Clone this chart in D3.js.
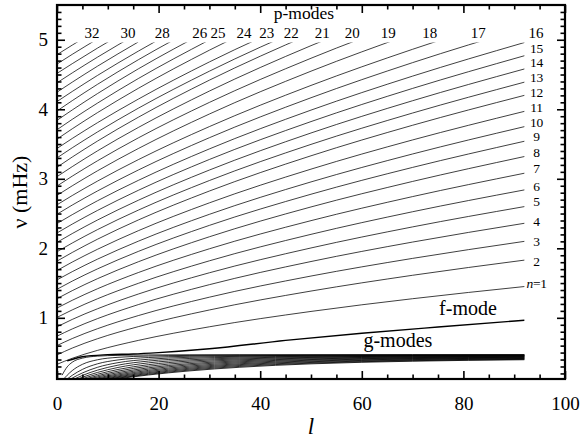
<!DOCTYPE html>
<html>
<head>
<meta charset="utf-8">
<script src="https://cdn.jsdelivr.net/npm/d3@7"></script>
<style>
  html, body { margin: 0; padding: 0; background: #fff; }
  svg { display: block; }
  svg text { font-family: "Liberation Serif", "Times New Roman", Times, serif; fill: #000; }
</style>
</head>
<body>
<svg id="chart" width="584" height="441"></svg>
<script>
// ---------------- data ----------------
// degree grid for p-mode ridges
const lGrid = [0, 3, 8, 16, 30, 50, 70, 92];
// p-mode frequencies (mHz), n = 1 .. 34, values at lGrid
const pModes = [
  [0.331, 0.418, 0.532, 0.675, 0.871, 1.092, 1.275, 1.45],
  [0.466, 0.565, 0.700, 0.873, 1.113, 1.385, 1.612, 1.83],
  [0.601, 0.702, 0.844, 1.032, 1.297, 1.601, 1.855, 2.10],
  [0.736, 0.840, 0.989, 1.190, 1.477, 1.810, 2.090, 2.36],
  [0.871, 0.977, 1.131, 1.342, 1.648, 2.005, 2.308, 2.60],
  [1.006, 1.114, 1.275, 1.496, 1.820, 2.201, 2.526, 2.84],
  [1.141, 1.252, 1.419, 1.651, 1.993, 2.398, 2.744, 3.08],
  [1.276, 1.391, 1.564, 1.806, 2.166, 2.595, 2.962, 3.32],
  [1.411, 1.528, 1.705, 1.955, 2.330, 2.778, 3.164, 3.54],
  [1.546, 1.664, 1.845, 2.102, 2.489, 2.955, 3.357, 3.75],
  [1.681, 1.802, 1.987, 2.253, 2.654, 3.139, 3.559, 3.97],
  [1.816, 1.940, 2.132, 2.407, 2.824, 3.331, 3.770, 4.20],
  [1.951, 2.076, 2.270, 2.549, 2.975, 3.495, 3.946, 4.39],
  [2.086, 2.212, 2.408, 2.691, 3.126, 3.659, 4.123, 4.58],
  [2.221, 2.348, 2.546, 2.834, 3.278, 3.823, 4.300, 4.77],
  [2.356, 2.484, 2.685, 2.977, 3.430, 3.988, 4.477, 4.96],
  [2.491, 2.622, 2.826, 3.126, 3.591, 4.166, 4.671, 5.169],
  [2.626, 2.759, 2.968, 3.275, 3.751, 4.343, 4.863, 5.377],
  [2.761, 2.899, 3.116, 3.435, 3.932, 4.548, 5.090],
  [2.896, 3.038, 3.260, 3.588, 4.099, 4.734, 5.294],
  [3.031, 3.175, 3.403, 3.738, 4.262, 4.915, 5.490],
  [3.166, 3.313, 3.544, 3.885, 4.419, 5.086],
  [3.301, 3.446, 3.675, 4.015, 4.548, 5.217],
  [3.436, 3.580, 3.808, 4.146, 4.681, 5.352],
  [3.571, 3.719, 3.953, 4.301, 4.850, 5.541],
  [3.706, 3.855, 4.090, 4.442, 4.998],
  [3.841, 3.990, 4.227, 4.581, 5.141],
  [3.976, 4.124, 4.360, 4.712, 5.273],
  [4.111, 4.256, 4.488, 4.836, 5.391],
  [4.246, 4.390, 4.621, 4.968],
  [4.381, 4.523, 4.751, 5.095],
  [4.516, 4.656, 4.881, 5.222],
  [4.651, 4.790, 5.013],
  [4.786, 4.923, 5.144]
];
const nuCut = 4.96;      // ridges are cut at this frequency (mHz)

// f-mode
const fL  = [2, 5, 10, 15, 20, 30, 45, 60, 75, 92];
const fNu = [0.38, 0.44, 0.47, 0.48, 0.50, 0.555, 0.675, 0.778, 0.868, 0.965];

// g-modes
const gL = [1, 2, 3, 5, 8, 12, 18, 26, 36, 50, 70, 92];
const gModes = [
  [0.175, 0.294, 0.361, 0.420, 0.449, 0.460, 0.466, 0.468, 0.469, 0.469, 0.470, 0.470],
  [0.092, 0.174, 0.241, 0.331, 0.397, 0.432, 0.450, 0.459, 0.463, 0.465, 0.466, 0.467],
  [0.062, 0.120, 0.173, 0.258, 0.339, 0.394, 0.429, 0.447, 0.455, 0.460, 0.462, 0.464],
  [0.046, 0.091, 0.133, 0.207, 0.289, 0.355, 0.404, 0.432, 0.446, 0.454, 0.458, 0.460],
  [0.037, 0.073, 0.107, 0.171, 0.248, 0.319, 0.378, 0.415, 0.435, 0.446, 0.453, 0.456],
  [0.030, 0.061, 0.090, 0.145, 0.215, 0.286, 0.352, 0.396, 0.422, 0.438, 0.447, 0.452],
  [0.026, 0.052, 0.077, 0.125, 0.189, 0.257, 0.326, 0.378, 0.409, 0.430, 0.441, 0.447],
  [0.023, 0.045, 0.067, 0.110, 0.168, 0.233, 0.303, 0.359, 0.396, 0.420, 0.435, 0.442],
  [0.020, 0.040, 0.060, 0.098, 0.151, 0.212, 0.281, 0.340, 0.382, 0.410, 0.428, 0.437],
  [0.018, 0.036, 0.053, 0.088, 0.136, 0.194, 0.262, 0.323, 0.368, 0.400, 0.421, 0.432],
  [0.016, 0.032, 0.048, 0.080, 0.124, 0.178, 0.244, 0.306, 0.354, 0.390, 0.414, 0.426],
  [0.015, 0.029, 0.044, 0.073, 0.114, 0.164, 0.228, 0.290, 0.340, 0.379, 0.407, 0.421],
  [0.014, 0.027, 0.040, 0.067, 0.105, 0.152, 0.213, 0.275, 0.327, 0.369, 0.399, 0.415],
  [0.013, 0.025, 0.037, 0.062, 0.098, 0.142, 0.200, 0.261, 0.314, 0.358, 0.391, 0.409],
  [0.012, 0.023, 0.035, 0.058, 0.091, 0.133, 0.188, 0.248, 0.301, 0.348, 0.383, 0.403],
  [0.011, 0.022, 0.032, 0.054, 0.085, 0.124, 0.178, 0.236, 0.289, 0.338, 0.376, 0.397]
];

// labels
const topLabels  = [32, 30, 28, 26, 25, 24, 23, 22, 21, 20, 19, 18, 17, 16];
const topLabelL  = [6.9, 14.0, 20.7, 28.1, 31.7, 36.8, 41.3, 46.1, 52.2, 58.1, 65.2, 73.4, 82.9, 94.3];
const rightLabels   = [15, 14, 13, 12, 11, 10, 9, 8, 7, 6, 5, 4, 3, 2, 1];
const rightLabelNu  = [4.875, 4.675, 4.454, 4.238, 4.028, 3.812, 3.615, 3.375, 3.151, 2.886, 2.670, 2.383, 2.095, 1.807, 1.497];
const xTicks = [0, 20, 40, 60, 80, 100];
const yTicks = [1, 2, 3, 4, 5];
const xDomain = [0, 100];
const yDomain = [0.12, 5.5];

// ---------------- drawing ----------------
const FONT = '"Liberation Serif", "Times New Roman", Times, serif';
const svg = d3.select("#chart");
const M = {left: 57, right: 565, top: 5, bottom: 379};
const x = d3.scaleLinear().domain(xDomain).range([M.left, M.right]);
const y = d3.scaleLinear().domain(yDomain).range([M.bottom, M.top]);

svg.append("defs").append("clipPath").attr("id", "clip")
  .append("rect")
  .attr("x", x(0)).attr("width", x(100) - x(0))
  .attr("y", y(nuCut)).attr("height", y(yDomain[0]) - y(nuCut));

const plot = svg.append("g").attr("clip-path", "url(#clip)");
const line = d3.line().x(d => x(d[0])).y(d => y(d[1])).curve(d3.curveMonotoneX);

// g-modes
plot.append("g").selectAll("path").data(gModes).join("path")
  .attr("d", vals => line(vals.map((v, i) => [gL[i], v])))
  .attr("fill", "none").attr("stroke", "#000").attr("stroke-width", 0.8);

// p-modes
plot.append("g").selectAll("path").data(pModes).join("path")
  .attr("d", vals => line(vals.map((v, i) => [lGrid[i], v])))
  .attr("fill", "none").attr("stroke", "#000").attr("stroke-width", 0.75);

// f-mode
plot.append("path")
  .attr("d", line(fNu.map((v, i) => [fL[i], v])))
  .attr("fill", "none").attr("stroke", "#000").attr("stroke-width", 1.4);

// axes
const tickW = 1.6;
function styleAxis(g) {
  g.attr("font-family", FONT);
  g.select(".domain").remove();
  g.selectAll(".tick line").attr("stroke", "#000").attr("stroke-width", tickW);
  g.selectAll(".tick text").attr("font-size", 19).attr("fill", "#000")
    .style("font-family", FONT);
}
const xMinor = d3.range(0, 101, 5).filter(v => v % 20 !== 0);
const yMinor = d3.range(2, 55).map(v => v / 10).filter(v => Math.abs(v - Math.round(v)) > 1e-6);

// bottom
svg.append("g").attr("transform", `translate(0,${M.bottom})`)
  .call(d3.axisBottom(x).tickValues(xTicks).tickSize(-8).tickPadding(18).tickFormat(d3.format("d")))
  .call(styleAxis);
svg.append("g").attr("transform", `translate(0,${M.bottom})`)
  .call(d3.axisBottom(x).tickValues(xMinor).tickSize(-4.5).tickFormat(""))
  .call(styleAxis);
// top
svg.append("g").attr("transform", `translate(0,${M.top})`)
  .call(d3.axisTop(x).tickValues(xTicks).tickSize(-8).tickFormat(""))
  .call(styleAxis);
svg.append("g").attr("transform", `translate(0,${M.top})`)
  .call(d3.axisTop(x).tickValues(xMinor).tickSize(-4.5).tickFormat(""))
  .call(styleAxis);
// left
svg.append("g").attr("transform", `translate(${M.left},0)`)
  .call(d3.axisLeft(y).tickValues(yTicks).tickSize(-8).tickPadding(9).tickFormat(d3.format("d")))
  .call(styleAxis);
svg.append("g").attr("transform", `translate(${M.left},0)`)
  .call(d3.axisLeft(y).tickValues(yMinor).tickSize(-4.5).tickFormat(""))
  .call(styleAxis);
// right
svg.append("g").attr("transform", `translate(${M.right},0)`)
  .call(d3.axisRight(y).tickValues(yTicks).tickSize(-8).tickFormat(""))
  .call(styleAxis);
svg.append("g").attr("transform", `translate(${M.right},0)`)
  .call(d3.axisRight(y).tickValues(yMinor).tickSize(-4.5).tickFormat(""))
  .call(styleAxis);

// frame
svg.append("rect")
  .attr("x", M.left).attr("y", M.top)
  .attr("width", M.right - M.left).attr("height", M.bottom - M.top)
  .attr("fill", "none").attr("stroke", "#000").attr("stroke-width", 2.2);

// axis titles
svg.append("text")
  .attr("x", (M.left + M.right) / 2).attr("y", 434)
  .attr("text-anchor", "middle").attr("font-size", 23).attr("font-style", "italic")
  .text("l");
svg.append("text")
  .attr("transform", `translate(27,${(M.top + M.bottom) / 2}) rotate(-90)`)
  .attr("text-anchor", "middle").attr("font-size", 22)
  .text("ν (mHz)");

// mode labels at the top
svg.append("g").selectAll("text").data(topLabels).join("text")
  .attr("x", (d, i) => x(topLabelL[i]))
  .attr("y", y(nuCut) - 5)
  .attr("text-anchor", "middle").attr("font-size", 15)
  .text(d => d);

// mode labels at the right
const rl = svg.append("g");
rightLabels.forEach((n, i) => {
  const t = rl.append("text")
    .attr("x", x(94.4))
    .attr("y", y(rightLabelNu[i]))
    .attr("dominant-baseline", "central")
    .attr("text-anchor", "middle").attr("font-size", 13.5)
    .attr("letter-spacing", "-0.3");
  if (n === 1) {
    t.append("tspan").attr("font-style", "italic").text("n");
    t.append("tspan").text("=1");
  } else {
    t.text(n);
  }
});

// region labels
svg.append("text").attr("x", x(48.6)).attr("y", y(5.30))
  .attr("text-anchor", "middle").attr("font-size", 17.5).text("p-modes");
svg.append("text").attr("x", x(80.9)).attr("y", y(1.04))
  .attr("text-anchor", "middle").attr("font-size", 20).text("f-mode");
svg.append("text").attr("x", x(67.1)).attr("y", y(0.585))
  .attr("text-anchor", "middle").attr("font-size", 20).text("g-modes");
</script>
</body>
</html>
